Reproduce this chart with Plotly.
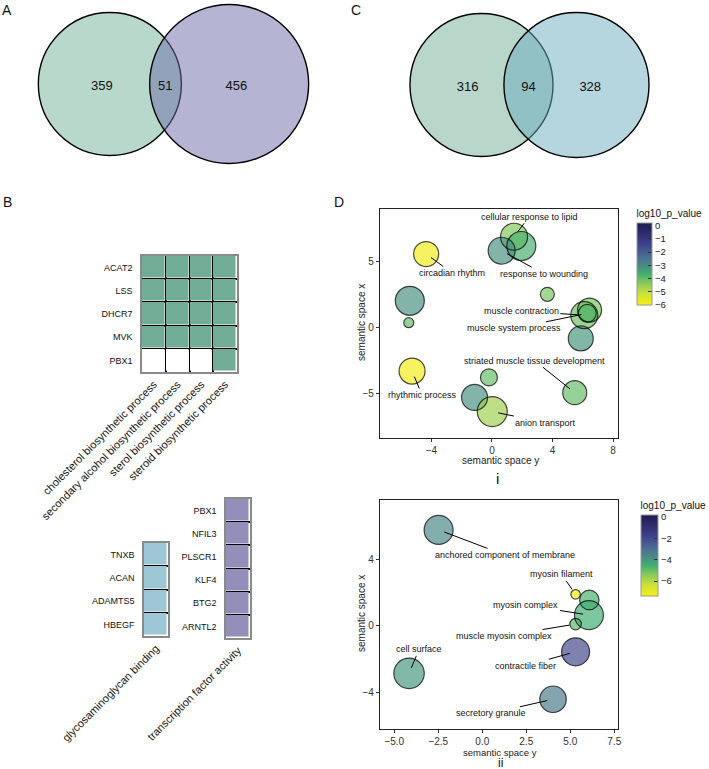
import numpy as np
import plotly.graph_objects as go

W, H = 709, 769
FONT = "Liberation Sans, Arial, sans-serif"

# ---------------- data ----------------
# Venn counts: [only left, both, only right]
venn_A_counts = [359, 51, 456]
venn_C_counts = [316, 94, 328]

# Heatmap B (gene membership per GO term)
hm1_genes = ["ACAT2", "LSS", "DHCR7", "MVK", "PBX1"]
hm1_terms = ["cholesterol biosynthetic process", "secondary alcohol biosynthetic process",
             "sterol biosynthetic process", "steroid biosynthetic process"]
hm1_member = [[1, 1, 1, 1], [1, 1, 1, 1], [1, 1, 1, 1], [1, 1, 1, 1], [0, 0, 0, 1]]

hm2_genes = ["TNXB", "ACAN", "ADAMTS5", "HBEGF"]
hm2_terms = ["glycosaminoglycan binding"]
hm2_member = [[1], [1], [1], [1]]

hm3_genes = ["PBX1", "NFIL3", "PLSCR1", "KLF4", "BTG2", "ARNTL2"]
hm3_terms = ["transcription factor activity"]
hm3_member = [[1], [1], [1], [1], [1], [1]]

# Panel D-i (semantic space)
d1_sem_y = [-4.35, 1.46, 1.94, 0.64, -5.43, -5.5, 3.66, 6.45, 6.1, 6.3, 5.87, -5.28, -0.2, 5.47, -1.15, 0.02]
d1_sem_x = [5.53, 6.84, 6.14, 5.78, 1.99, 0.33, 2.48, 1.29, 0.9, 1.04, -0.86, -3.33, -3.81, -4.97, -5.33, -6.4]
d1_size = [2.5, 2.7, 2.9, 2.7, 2.9, 1.0, 1.4, 2.4, 2.7, 1.8, 2.5, 2.6, 1.7, 2.4, 2.6, 3.0]
d1_logp = [-5.9, -4.3, -3.7, -3.1, -3.1, -4.0, -4.2, -4.2, -4.1, -3.8, -3.2, -5.9, -4.0, -4.0, -3.1, -4.6]
d1_label = ["circadian rhythm", "cellular response to lipid", "", "response to wounding", "", "", "", "",
            "muscle contraction", "muscle system process", "", "rhythmic process", "",
            "striated muscle tissue development", "", "anion transport"]

# Panel D-ii
d2_sem_y = [-2.48, 5.3, 6.08, 6.06, 5.3, 5.3, -4.16, 4.02]
d2_sem_x = [5.77, 1.89, 1.55, 0.64, 0.1, -1.57, -2.87, -4.43]
d2_size = [2.9, 0.95, 1.95, 2.9, 1.15, 2.8, 3.05, 2.65]
d2_logp = [-3.6, -7.3, -4.6, -4.5, -4.8, -1.9, -4.0, -3.3]
d2_label = ["anchored component of membrane", "myosin filament", "", "myosin complex",
            "muscle myosin complex", "contractile fiber", "cell surface", "secretory granule"]

# ---------------- style / layout ----------------
def px(x):
    return x / W

def py(y):
    return 1 - y / H

label_offsets = {
    "circadian rhythm": (26, 19), "cellular response to lipid": (15, -20),
    "response to wounding": (42, 23), "muscle contraction": (-63, -4),
    "muscle system process": (-73, 15), "rhythmic process": (10, 24),
    "striated muscle tissue development": (-40, -32), "anion transport": (53, 11),
    "anchored component of membrane": (66, 25), "myosin filament": (-14, -20),
    "myosin complex": (-63, -10), "muscle myosin complex": (-72, 12),
    "contractile fiber": (-50, 14), "cell surface": (10, -24), "secretory granule": (-62, 14),
}

cscale = [[0.00, "#F5F014"], [0.15, "#C9DF3C"], [0.28, "#7FC65E"], [0.38, "#3FAE70"],
          [0.48, "#4A8B84"], [0.60, "#4A6A93"], [0.75, "#3D3F8A"], [1.00, "#1E1B52"]]

fig = go.Figure()
shapes = []
annotations = []

# ---------------- Venn diagrams ----------------
def lens_area(d, r1, r2):
    if d >= r1 + r2:
        return 0.0
    if d <= abs(r1 - r2):
        return np.pi * min(r1, r2) ** 2
    a1 = r1 ** 2 * np.arccos((d * d + r1 * r1 - r2 * r2) / (2 * d * r1))
    a2 = r2 ** 2 * np.arccos((d * d + r2 * r2 - r1 * r1) / (2 * d * r2))
    t = 0.5 * np.sqrt((-d + r1 + r2) * (d + r1 - r2) * (d - r1 + r2) * (d + r1 + r2))
    return a1 + a2 - t

K = 71.5 / np.sqrt(410)  # px per sqrt(count)

def draw_venn(counts, mid_x, mid_y, col_l, col_r):
    nl, nb, nr = counts
    r1 = K * np.sqrt(nl + nb)
    r2 = K * np.sqrt(nr + nb)
    target = np.pi * K * K * nb
    lo, hi = abs(r1 - r2) + 1e-6, r1 + r2
    for _ in range(200):
        d = 0.5 * (lo + hi)
        if lens_area(d, r1, r2) > target:
            lo = d
        else:
            hi = d
    width = r1 + d + r2
    c1 = mid_x - width / 2 + r1
    c2 = c1 + d
    for c, r, col in [(c1, r1, col_l), (c2, r2, col_r)]:
        shapes.append(dict(type="circle", xref="x", yref="y", x0=c - r, x1=c + r,
                           y0=mid_y - r, y1=mid_y + r, fillcolor=col,
                           line=dict(color="black", width=1.4), layer="below"))
    gx, gy = np.meshgrid(np.linspace(c1 - r1, c2 + r2, 500), np.linspace(mid_y - max(r1, r2), mid_y + max(r1, r2), 300))
    in1 = (gx - c1) ** 2 + (gy - mid_y) ** 2 <= r1 ** 2
    in2 = (gx - c2) ** 2 + (gy - mid_y) ** 2 <= r2 ** 2
    xs = [gx[in1 & ~in2].mean(), gx[in1 & in2].mean(), gx[in2 & ~in1].mean()]
    fig.add_trace(go.Scatter(x=xs, y=[mid_y + 3] * 3, mode="text", text=[str(v) for v in counts],
                             textfont=dict(size=13, color="#111", family=FONT),
                             hoverinfo="skip", showlegend=False, xaxis="x", yaxis="y"))

draw_venn(venn_A_counts, 173.5, 84, "rgba(113,177,153,0.5)", "rgba(107,107,167,0.5)")
draw_venn(venn_C_counts, 529.5, 85, "rgba(115,173,151,0.5)", "rgba(107,171,191,0.5)")

# ---------------- Heatmaps ----------------
def add_heat(ax, genes, terms, member, color):
    fig.add_trace(go.Heatmap(x=terms, y=genes, z=member, zmin=0, zmax=1,
                             colorscale=[[0, "white"], [1, color]], showscale=False,
                             xgap=1.5, ygap=1.5, hoverinfo="skip",
                             xaxis="x" + ax, yaxis="y" + ax))

add_heat("3", hm1_genes, hm1_terms, hm1_member, "#72AD97")
add_heat("4", hm2_genes, hm2_terms, hm2_member, "#9DC7D6")
add_heat("5", hm3_genes, hm3_terms, hm3_member, "#9290B9")

# ---------------- Bubble plots ----------------
def add_bubbles(ax, sx, sy, size, logp, labels, cmin, cmax, dtick, cb_x, cb_top, cb_len, cb_th):
    fig.add_trace(go.Scatter(
        x=sx, y=sy, mode="markers", xaxis="x" + ax, yaxis="y" + ax, showlegend=False, hoverinfo="skip",
        marker=dict(size=size, sizemode="diameter", sizeref=0.1, color=logp, colorscale=cscale,
                    cmin=cmin, cmax=cmax, opacity=0.68, line=dict(width=0),
                    showscale=True,
                    colorbar=dict(x=cb_x, xanchor="left", y=cb_top, yanchor="top", len=cb_len,
                                  lenmode="fraction", thickness=cb_th, xpad=0, ypad=0,
                                  outlinecolor="#999", outlinewidth=1,
                                  ticks="inside", ticklen=4, tickcolor="#333", dtick=dtick, tick0=0,
                                  tickfont=dict(size=9.5, family=FONT, color="#222"),
                                  title=dict(text="log10_p_value", side="top",
                                             font=dict(size=10, family=FONT, color="#111"))))))
    fig.add_trace(go.Scatter(
        x=sx, y=sy, mode="markers", xaxis="x" + ax, yaxis="y" + ax, showlegend=False, hoverinfo="skip",
        marker=dict(size=size, sizemode="diameter", sizeref=0.1, color="rgba(0,0,0,0)",
                    line=dict(width=1.2, color="black"))))
    for xv, yv, lab in zip(sx, sy, labels):
        if lab:
            ox, oy = label_offsets[lab]
            annotations.append(dict(x=xv, y=yv, xref="x" + ax, yref="y" + ax, text=lab,
                                    showarrow=True, arrowhead=0, arrowwidth=1, arrowcolor="black",
                                    ax=ox, ay=oy, standoff=6,
                                    font=dict(size=9, family=FONT, color="#111")))

add_bubbles("6", d1_sem_y, d1_sem_x, d1_size, d1_logp, d1_label, -6.0, 0.2, 1,
            px(637), py(207), (305 - 207) / H, 15)
add_bubbles("7", d2_sem_y, d2_sem_x, d2_size, d2_logp, d2_label, -7.4, 0.2, 2,
            px(641), py(499), (596 - 499) / H, 17)

# ---------------- axes ----------------
layout = dict(
    width=W, height=H, margin=dict(l=0, r=0, t=0, b=0, pad=0, autoexpand=False), autosize=False,
    paper_bgcolor="white", plot_bgcolor="white", font=dict(family=FONT, color="#111"),
    xaxis=dict(domain=[0, 1], range=[0, W], visible=False, automargin=False),
    yaxis=dict(domain=[py(190), 1], range=[190, 0], visible=False, automargin=False),
)

def heat_axes(n, x0, x1, y0, y1, genes, terms):
    common = dict(showgrid=True, gridcolor="black", gridwidth=1.5, tickson="boundaries",
                  ticks="", showline=True, mirror=True, linecolor="#8a8a8a", linewidth=1.5,
                  zeroline=False, fixedrange=True, automargin=False)
    layout["xaxis" + n] = dict(domain=[px(x0), px(x1)], anchor="y" + n, type="category",
                               categoryorder="array", categoryarray=terms, tickangle=-45,
                               tickfont=dict(size=11, family=FONT, color="#111"), **common)
    layout["yaxis" + n] = dict(domain=[py(y1), py(y0)], anchor="x" + n, type="category",
                               categoryorder="array", categoryarray=genes, autorange="reversed",
                               ticklabelstandoff=6, tickfont=dict(size=9, family=FONT, color="#111"),
                               **common)

heat_axes("3", 142, 237, 256, 372, hm1_genes, hm1_terms)
heat_axes("4", 144, 168, 543, 636, hm2_genes, hm2_terms)
heat_axes("5", 226, 250, 499, 638, hm3_genes, hm3_terms)

def bubble_axes(n, y0, y1, xr, yr, xt, yt, xfmt):
    common = dict(showgrid=False, zeroline=False, showline=True, mirror=True, linecolor="#222",
                  linewidth=1.3, ticks="outside", ticklen=3, tickcolor="#333", tickwidth=1,
                  tickfont=dict(size=10, family=FONT, color="#333"), fixedrange=True, automargin=False)
    layout["xaxis" + n] = dict(domain=[px(380), px(618)], anchor="y" + n, range=xr, tickvals=xt,
                               tickformat=xfmt, **common)
    layout["yaxis" + n] = dict(domain=[py(y1), py(y0)], anchor="x" + n, range=yr, tickvals=yt, **common)

bubble_axes("6", 209, 438, [-7.4, 8.33], [-8.4, 8.94], [-4, 0, 4, 8], [-5, 0, 5], "d")
bubble_axes("7", 500, 729, [-5.81, 7.71], [-6.22, 7.57], [-5, -2.5, 0, 2.5, 5, 7.5], [-4, 0, 4], ".1f")

def note(text, x, y, size, angle=0, color="#111"):
    annotations.append(dict(text=text, x=px(x), y=py(y), xref="paper", yref="paper", showarrow=False,
                            textangle=angle, xanchor="center", yanchor="middle", borderpad=0,
                            font=dict(size=size, family=FONT, color=color)))

note("A", 7, 10, 14)
note("C", 356, 10, 14)
note("B", 7, 202, 14)
note("D", 339, 202, 14)
note("semantic space y", 500, 460, 10, color="#222")
note("semantic space y", 500, 752, 9.5, color="#222")
note("semantic space x", 361, 323, 10, -90, "#222")
note("semantic space x", 361, 614, 10, -90, "#222")
note("i", 497, 478, 15)
note("ii", 500, 763, 12)

layout["shapes"] = shapes
layout["annotations"] = annotations
fig.update_layout(**layout)

fig.write_html("out.html", config={"displayModeBar": False},
               post_script="document.body.style.margin='0';document.body.style.overflow='hidden';")
